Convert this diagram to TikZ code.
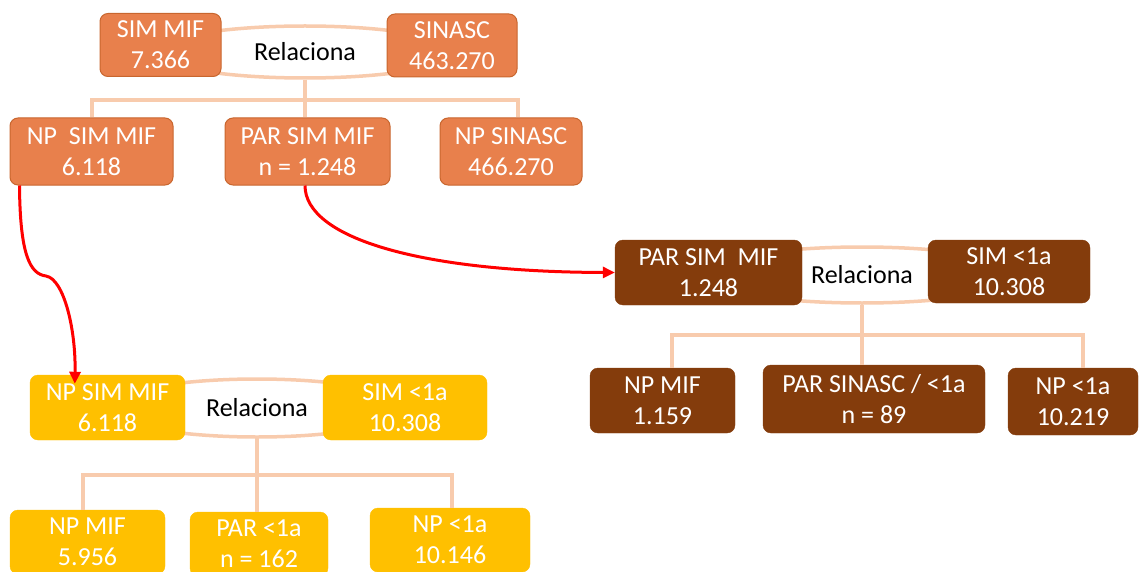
\documentclass[tikz,border=0pt]{standalone}
\usepackage{fontspec}
\setmainfont{Carlito}
\usetikzlibrary{shapes.geometric,arrows.meta}
\definecolor{boxorange}{HTML}{E8804C}
\definecolor{edgeorange}{HTML}{C8662E}
\definecolor{boxbrown}{HTML}{843C0C}
\definecolor{boxyellow}{HTML}{FFC000}
\definecolor{peach}{HTML}{F8CBAD}
\begin{document}
\begin{tikzpicture}
    [
    x=1pt, y=-1pt,
    record/.style={rectangle,rounded corners=8pt,align=center,text=white,inner sep=0pt,font=\fontsize{26}{31}\selectfont},
    orangebox/.style={record,fill=boxorange,draw=edgeorange,line width=1pt},
    brownbox/.style={record,fill=boxbrown,draw=boxbrown},
    yellowbox/.style={record,fill=boxyellow,draw=boxyellow},
    relation/.style={ellipse,draw=peach,line width=3.5pt,fill=white,inner sep=0pt,font=\fontsize{26}{31}\selectfont},
    link/.style={draw=peach,line width=3.5pt},
    flow/.style={draw=red,line width=3pt,-{Triangle[length=12pt,width=11pt]}}
    ]
    \useasboundingbox (0,0) rectangle (1139,572);
    \clip (0,0) rectangle (1139,572);
    % first level
    \node (rel1) at (305,52) [relation, minimum width=300, minimum height=52] {Relaciona};
    \node (simmif1) at (160.5,45) [orangebox, minimum width=121, minimum height=63] {SIM MIF\\7.366};
    \node (sinasc1) at (452,45.5) [orangebox, minimum width=130, minimum height=63] {SINASC\\463.270};
    \node (npsim1) at (91.5,151.5) [orangebox, minimum width=163, minimum height=67] {NP\ \ SIM MIF\\6.118};
    \node (parsim1) at (307.5,151.5) [orangebox, minimum width=165, minimum height=67] {PAR SIM MIF\\n = 1.248};
    \node (npsin1) at (511,151.5) [orangebox, minimum width=142, minimum height=67] {NP SINASC\\466.270};
    \coordinate (bar1) at (305,100);
    \draw [link] (rel1.south) -- ([xshift=-2.5]parsim1.north);
    \draw [link] ([xshift=0.5]npsim1.north) |- (bar1) -| ([xshift=7]npsin1.north);
    % second level, paired records
    \node (rel2) at (862,275) [relation, minimum width=320, minimum height=56] {Relaciona};
    \node (parsim2) at (708.5,272.5) [brownbox, minimum width=187, minimum height=65] {PAR SIM\ \ MIF\\1.248};
    \node (sim2) at (1009,271.5) [brownbox, minimum width=162, minimum height=63] {SIM <1a\\10.308};
    \node (npmif2) at (662.5,400.5) [brownbox, minimum width=145, minimum height=65] {NP MIF\\1.159};
    \node (parsin2) at (874,399) [brownbox, minimum width=222, minimum height=68] {PAR SINASC / <1a\\n = 89};
    \node (nplt2) at (1073,401.5) [brownbox, minimum width=130, minimum height=67] {NP <1a\\10.219};
    \coordinate (bar2) at (862,335);
    \draw [link] (rel2.south) -- ([xshift=-12]parsin2.north);
    \draw [link] ([xshift=9.5]npmif2.north) |- (bar2) -| ([xshift=10]nplt2.north);
    % second level, unpaired records
    \node (rel3) at (257,408) [relation, minimum width=300, minimum height=58] {Relaciona};
    \node (npsim3) at (107.5,407.5) [yellowbox, minimum width=155, minimum height=65] {NP SIM MIF\\6.118};
    \node (sim3) at (405,407.5) [yellowbox, minimum width=164, minimum height=65] {SIM <1a\\10.308};
    \node (npmif3) at (87.5,542) [yellowbox, minimum width=155, minimum height=64] {NP MIF\\5.956};
    \node (par3) at (259,544) [yellowbox, minimum width=138, minimum height=64] {PAR <1a\\n = 162};
    \node (nplt3) at (450,540) [yellowbox, minimum width=160, minimum height=64] {NP <1a\\10.146};
    \coordinate (bar3) at (257,475);
    \draw [link] (rel3.south) -- ([xshift=-2]par3.north);
    \draw [link] ([xshift=-4.5]npmif3.north) |- (bar3) -| ([xshift=2]nplt3.north);
    % red arrows
    \draw [flow] ([xshift=10]npsim1.south west) .. controls (20,255) and (30,274) .. (46,276) .. controls (64,279) and (76,330) .. ([xshift=45,yshift=-9]npsim3.north west);
    \draw [flow] ([xshift=-2.5]parsim1.south) .. controls (305,238) and (420,272) .. (parsim2.west);
  \end{tikzpicture}
\end{document}
